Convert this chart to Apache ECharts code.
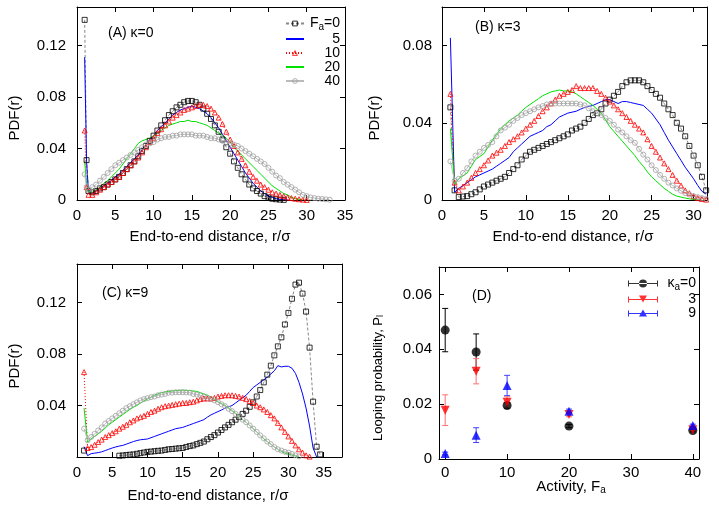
<!DOCTYPE html>
<html>
<head>
<meta charset="utf-8">
<script src="https://cdn.jsdelivr.net/npm/echarts@6/dist/echarts.min.js"></script>
<style>
html, body { margin: 0; padding: 0; background: #fff; }
#chart { width: 719px; height: 507px; }
</style>
</head>
<body>
<div id="chart"></div>
<script>
// ---- panel A (kappa = 0) ----
var xA = [1, 1.25, 1.5, 2, 2.5, 3, 3.5, 4, 4.5, 5, 5.5, 6, 6.5, 7, 7.5, 8, 8.5, 9, 9.5, 10, 10.5, 11, 11.5, 12, 12.5, 13, 13.5, 14, 14.5, 15, 15.5, 16, 16.5, 17, 17.5, 18, 18.5, 19, 19.5, 20, 20.5, 21, 21.5, 22, 22.5, 23, 23.5, 24, 24.5, 25, 25.5, 26, 26.5, 27, 27.5, 28, 28.5, 29, 29.5, 30, 30.5, 31, 31.5, 32, 32.5, 33];
var aF0 = [0.140, 0.031, 0.007, 0.006, 0.007, 0.009, 0.010, 0.012, 0.014, 0.016, 0.018, 0.021, 0.024, 0.027, 0.030, 0.034, 0.038, 0.042, 0.046, 0.050, 0.054, 0.058, 0.062, 0.066, 0.069, 0.072, 0.074, 0.076, 0.077, 0.077, 0.076, 0.074, 0.071, 0.067, 0.063, 0.058, 0.053, 0.047, 0.041, 0.036, 0.030, 0.025, 0.020, 0.016, 0.012, 0.009, 0.007, 0.005, 0.003, 0.002, 0.001, 0.0006, 0.0003, 0.0001];
var aF5 = [0.111, 0.030, 0.006, 0.005, 0.007, 0.009, 0.011, 0.013, 0.015, 0.018, 0.020, 0.023, 0.026, 0.029, 0.032, 0.035, 0.039, 0.043, 0.047, 0.050, 0.054, 0.057, 0.060, 0.063, 0.066, 0.068, 0.070, 0.071, 0.072, 0.073, 0.072, 0.071, 0.069, 0.067, 0.064, 0.060, 0.056, 0.051, 0.046, 0.041, 0.036, 0.031, 0.026, 0.021, 0.017, 0.013, 0.010, 0.007, 0.005, 0.003, 0.002, 0.001, 0.0006, 0.0003, 0];
var aF10 = [0.054, 0.010, 0.004, 0.004, 0.006, 0.008, 0.010, 0.012, 0.014, 0.016, 0.018, 0.021, 0.024, 0.027, 0.030, 0.033, 0.037, 0.041, 0.045, 0.048, 0.052, 0.055, 0.058, 0.061, 0.064, 0.066, 0.068, 0.070, 0.071, 0.072, 0.073, 0.074, 0.074, 0.073, 0.071, 0.068, 0.064, 0.059, 0.053, 0.047, 0.042, 0.037, 0.032, 0.027, 0.022, 0.018, 0.015, 0.012, 0.010, 0.008, 0.006, 0.005, 0.004, 0.003, 0.002, 0.0015, 0.001, 0.0006, 0.0003, 0.0001];
var aF20 = [0.030, 0.012, 0.006, 0.006, 0.008, 0.010, 0.013, 0.015, 0.018, 0.021, 0.024, 0.028, 0.032, 0.036, 0.040, 0.044, 0.046, 0.047, 0.048, 0.050, 0.052, 0.054, 0.056, 0.058, 0.059, 0.060, 0.061, 0.061, 0.062, 0.061, 0.061, 0.060, 0.059, 0.058, 0.056, 0.054, 0.052, 0.050, 0.048, 0.045, 0.041, 0.038, 0.035, 0.032, 0.029, 0.026, 0.023, 0.020, 0.017, 0.014, 0.011, 0.009, 0.007, 0.005, 0.004, 0.002, 0.001, 0.0005, 0];
var aF40 = [0.020, 0.010, 0.008, 0.010, 0.012, 0.015, 0.018, 0.021, 0.024, 0.027, 0.029, 0.031, 0.033, 0.035, 0.037, 0.039, 0.041, 0.043, 0.044, 0.045, 0.047, 0.048, 0.049, 0.049, 0.050, 0.050, 0.051, 0.051, 0.051, 0.051, 0.050, 0.050, 0.050, 0.049, 0.048, 0.048, 0.047, 0.046, 0.045, 0.044, 0.043, 0.042, 0.040, 0.038, 0.036, 0.034, 0.032, 0.030, 0.028, 0.025, 0.022, 0.019, 0.017, 0.014, 0.012, 0.010, 0.008, 0.006, 0.004, 0.003, 0.002, 0.0015, 0.001, 0.0008, 0.0005, 0.0002];

// ---- panel B (kappa = 3) ----
var xB = [1, 1.5, 2, 2.5, 3, 3.5, 4, 4.5, 5, 5.5, 6, 6.5, 7, 7.5, 8, 8.5, 9, 9.5, 10, 10.5, 11, 11.5, 12, 12.5, 13, 13.5, 14, 14.5, 15, 15.5, 16, 16.5, 17, 17.5, 18, 18.5, 19, 19.5, 20, 20.5, 21, 21.5, 22, 22.5, 23, 23.5, 24, 24.5, 25, 25.5, 26, 26.5, 27, 27.5, 28, 28.5, 29, 29.5, 30, 30.5, 31, 31.5];
var bF0 = [0.048, 0.005, 0.0015, 0.0018, 0.002, 0.003, 0.004, 0.0055, 0.007, 0.008, 0.009, 0.010, 0.011, 0.012, 0.014, 0.016, 0.018, 0.021, 0.023, 0.025, 0.026, 0.027, 0.028, 0.029, 0.030, 0.031, 0.032, 0.033, 0.034, 0.036, 0.037, 0.038, 0.040, 0.042, 0.044, 0.045, 0.047, 0.050, 0.052, 0.054, 0.056, 0.059, 0.061, 0.062, 0.062, 0.062, 0.061, 0.059, 0.057, 0.055, 0.053, 0.050, 0.047, 0.044, 0.040, 0.037, 0.033, 0.028, 0.023, 0.018, 0.012, 0.005];
var bF5 = [0.084, 0.004, 0.006, 0.0075, 0.009, 0.0105, 0.012, 0.013, 0.014, 0.015, 0.016, 0.0175, 0.019, 0.0205, 0.022, 0.025, 0.027, 0.029, 0.031, 0.033, 0.034, 0.035, 0.036, 0.038, 0.039, 0.041, 0.043, 0.044, 0.045, 0.0455, 0.046, 0.047, 0.048, 0.0485, 0.049, 0.050, 0.051, 0.052, 0.052, 0.051, 0.050, 0.051, 0.051, 0.0505, 0.050, 0.0495, 0.049, 0.047, 0.045, 0.042, 0.039, 0.035, 0.031, 0.0275, 0.024, 0.0205, 0.017, 0.014, 0.011, 0.0075, 0.0045, 0.003];
var bF10 = [0.055, 0.009, 0.005, 0.007, 0.009, 0.0115, 0.014, 0.016, 0.018, 0.0205, 0.023, 0.0245, 0.026, 0.028, 0.030, 0.0315, 0.033, 0.035, 0.037, 0.039, 0.041, 0.0435, 0.046, 0.048, 0.050, 0.052, 0.054, 0.055, 0.056, 0.057, 0.059, 0.058, 0.058, 0.058, 0.058, 0.0565, 0.055, 0.053, 0.051, 0.049, 0.047, 0.045, 0.043, 0.041, 0.039, 0.037, 0.035, 0.0315, 0.028, 0.025, 0.022, 0.019, 0.016, 0.013, 0.010, 0.0075, 0.005, 0.0035, 0.002, 0.001, 0.0005, 0.0002];
var bF20 = [0.037, 0.008, 0.011, 0.0125, 0.014, 0.0175, 0.021, 0.0225, 0.024, 0.0275, 0.031, 0.034, 0.037, 0.039, 0.041, 0.0425, 0.044, 0.046, 0.048, 0.0495, 0.051, 0.0525, 0.054, 0.055, 0.056, 0.0565, 0.057, 0.0565, 0.0565, 0.056, 0.055, 0.0535, 0.052, 0.0505, 0.049, 0.047, 0.045, 0.0415, 0.038, 0.0355, 0.033, 0.0305, 0.028, 0.0255, 0.023, 0.020, 0.0175, 0.0145, 0.012, 0.010, 0.008, 0.006, 0.0045, 0.003, 0.002, 0.0015, 0.001, 0.0006, 0.0003, 0.0001, 0];
var bF40 = [0.020, 0.010, 0.011, 0.014, 0.0165, 0.020, 0.023, 0.025, 0.027, 0.0285, 0.030, 0.033, 0.036, 0.0375, 0.039, 0.041, 0.0425, 0.044, 0.045, 0.046, 0.047, 0.048, 0.0487, 0.0495, 0.050, 0.050, 0.050, 0.050, 0.050, 0.050, 0.050, 0.0495, 0.049, 0.0475, 0.046, 0.045, 0.044, 0.0425, 0.041, 0.039, 0.0365, 0.035, 0.033, 0.031, 0.0296, 0.0265, 0.0235, 0.021, 0.018, 0.0155, 0.013, 0.011, 0.009, 0.0075, 0.006, 0.0048, 0.0036, 0.0028, 0.002, 0.0015, 0.001, 0.0005];

// ---- panel C (kappa = 9) ----
var xC = [1, 1.5, 2, 2.5, 3, 3.5, 4, 4.5, 5, 5.5, 6, 6.5, 7, 7.5, 8, 8.5, 9, 9.5, 10, 10.5, 11, 11.5, 12, 12.5, 13, 13.5, 14, 14.5, 15, 15.5, 16, 16.5, 17, 17.5, 18, 18.5, 19, 19.5, 20, 20.5, 21, 21.5, 22, 22.5, 23, 23.5, 24, 24.5, 25, 25.5, 26, 26.5, 27, 27.5, 28, 28.5, 29, 29.5, 30, 30.5, 31, 31.5, 32, 32.5, 33, 33.5, 34, 34.5, 35];
var cF0 = [0.005, null, null, null, null, null, null, null, null, null, 0.001, 0.0012, 0.0015, 0.0018, 0.002, 0.0025, 0.003, 0.0035, 0.004, 0.0042, 0.0045, 0.0048, 0.005, 0.0055, 0.006, 0.0062, 0.0065, 0.0068, 0.007, 0.0078, 0.0085, 0.009, 0.010, 0.011, 0.012, 0.0138, 0.0155, 0.017, 0.019, 0.021, 0.023, 0.025, 0.027, 0.029, 0.031, 0.0335, 0.036, 0.039, 0.0425, 0.047, 0.052, 0.058, 0.064, 0.071, 0.079, 0.086, 0.093, 0.103, 0.112, 0.123, 0.134, 0.1355, 0.127, 0.113, 0.085, 0.043, 0.008, 0.002];
var cF5 = [0.008, 0.001, 0.0026, 0.003, 0.0034, 0.004, 0.005, 0.006, 0.007, 0.0078, 0.0085, 0.009, 0.010, 0.011, 0.012, 0.0128, 0.0134, 0.0137, 0.014, 0.015, 0.016, 0.017, 0.018, 0.019, 0.020, 0.021, 0.022, 0.0225, 0.023, 0.024, 0.025, 0.026, 0.027, 0.028, 0.029, 0.031, 0.0327, 0.034, 0.0353, 0.0365, 0.038, 0.039, 0.040, 0.042, 0.044, 0.046, 0.048, 0.051, 0.054, 0.056, 0.058, 0.060, 0.062, 0.0645, 0.067, 0.071, 0.070, 0.0705, 0.0705, 0.069, 0.065, 0.058, 0.049, 0.038, 0.024, 0.007, 0];
var cF10 = [0.066, 0.007, 0.0077, 0.0095, 0.0116, 0.0135, 0.0155, 0.017, 0.0186, 0.020, 0.022, 0.0235, 0.025, 0.027, 0.0284, 0.030, 0.031, 0.032, 0.0335, 0.035, 0.036, 0.0375, 0.0387, 0.0395, 0.040, 0.0405, 0.041, 0.0415, 0.042, 0.042, 0.0426, 0.043, 0.044, 0.045, 0.0455, 0.0455, 0.0455, 0.046, 0.047, 0.0475, 0.048, 0.048, 0.048, 0.0475, 0.047, 0.046, 0.045, 0.0435, 0.042, 0.040, 0.0387, 0.037, 0.035, 0.0325, 0.030, 0.0265, 0.023, 0.0195, 0.016, 0.0125, 0.009, 0.006, 0.0034, 0.0013, 0.0003];
var cF20 = [0.038, 0.0116, 0.0142, 0.016, 0.018, 0.020, 0.0225, 0.025, 0.027, 0.029, 0.031, 0.033, 0.035, 0.037, 0.0387, 0.040, 0.042, 0.0435, 0.045, 0.0465, 0.048, 0.049, 0.050, 0.0505, 0.051, 0.0513, 0.0516, 0.0518, 0.052, 0.0518, 0.0516, 0.0513, 0.051, 0.050, 0.049, 0.048, 0.0465, 0.045, 0.043, 0.0415, 0.040, 0.038, 0.036, 0.034, 0.0315, 0.029, 0.027, 0.0245, 0.022, 0.0195, 0.0168, 0.014, 0.012, 0.010, 0.0077, 0.006, 0.0044, 0.003, 0.0023, 0.0015, 0.0008, 0];
var cF40 = [0.022, 0.013, 0.0155, 0.018, 0.0206, 0.023, 0.026, 0.028, 0.030, 0.032, 0.034, 0.036, 0.038, 0.0395, 0.041, 0.0425, 0.044, 0.045, 0.0457, 0.0465, 0.047, 0.048, 0.0485, 0.049, 0.050, 0.050, 0.0503, 0.0503, 0.0503, 0.0502, 0.050, 0.049, 0.0485, 0.048, 0.047, 0.046, 0.045, 0.044, 0.0426, 0.041, 0.0395, 0.0375, 0.0356, 0.0335, 0.0315, 0.029, 0.027, 0.0245, 0.022, 0.0195, 0.0168, 0.0145, 0.012, 0.010, 0.0077, 0.006, 0.005, 0.004, 0.0034, 0.0024, 0.0013, 0.0005];

// ---- panel D (looping probability) ----
var activity = [0, 5, 10, 20, 40];
var plK0 = [0.047, 0.039, 0.0195, 0.012, 0.0104];
var errK0 = [0.0079, 0.0066, 0.001, 0.0006, 0.0005];
var plK3 = [0.0178, 0.032, 0.0207, 0.0162, 0.0107];
var errK3 = [0.0056, 0.0046, 0.002, 0.0008, 0.0005];
var plK9 = [0.002, 0.0087, 0.0268, 0.0174, 0.0122];
var errK9 = [0.0005, 0.0027, 0.0037, 0.0008, 0.0005];

// ticks
var ticksA = [0, 5, 10, 15, 20, 25, 30, 35];
var ticksB = [0, 5, 10, 15, 20, 25, 30];
var ticksPdf = [0, 0.04, 0.08, 0.12];
var ticksPdfC = [0.04, 0.08, 0.12];
var ticksD = [0, 10, 20, 30, 40];
var ticksPl = [0, 0.02, 0.04, 0.06];

var FONT = 'Liberation Sans';
var myChart = echarts.init(document.getElementById('chart'));

// text width, used to right-align the legend labels
var mctx = document.createElement('canvas').getContext('2d');
function textW(str, size) {
  mctx.font = size + 'px ' + FONT;
  return mctx.measureText(str).width;
}

function axes(grid, range, ticks, labels, margin, horiz) {
  function mk(pos, show) {
    return {
      type: 'value', gridIndex: grid, position: pos, min: range[0], max: range[1],
      axisLine: { show: true, onZero: false, lineStyle: { color: '#000', width: 1 } },
      axisTick: { show: true, inside: true, length: 5, customValues: ticks, lineStyle: { color: '#000', width: 1 } },
      axisLabel: { show: show, customValues: labels, margin: margin, color: '#000', fontSize: 15, fontFamily: FONT },
      splitLine: { show: false }
    };
  }
  return horiz ? [mk('bottom', true), mk('top', false)] : [mk('left', true), mk('right', false)];
}

var xAxes = [].concat(
  axes(0, [0, 35], ticksA, ticksA, 8, true),
  axes(1, [0, 31.6], ticksB, ticksB, 8, true),
  axes(2, [0, 37.6], ticksA, ticksA, 8, true),
  axes(3, [-1, 41], ticksD, ticksD, 6, true)
);
var yAxes = [].concat(
  axes(0, [0, 0.15], ticksPdf, ticksPdf, 11, false),
  axes(1, [0, 0.1], [0, 0.04, 0.08], [0, 0.04, 0.08], 10, false),
  axes(2, [0, 0.15], ticksPdf, ticksPdfC, 11, false),
  axes(3, [0, 0.07], ticksPl, ticksPl, 7, false)
);

var styles = {
  f0: { symbol: 'rect', size: 5, stroke: '#000', line: '#888', type: [3, 2] },
  f5: { symbol: 'none', stroke: '#0000ff', line: '#0000ff' },
  f10: { symbol: 'triangle', size: 5, stroke: '#ff0000', line: '#ff0000', type: [1, 2] },
  f20: { symbol: 'none', stroke: '#00e000', line: '#00e000' },
  f40: { symbol: 'circle', size: 5, stroke: '#a0a0a0', line: '#bbbbbb' }
};

function curve(grid, name, xs, ys, st) {
  var data = [];
  for (var i = 0; i < ys.length; i++) data.push([xs[i], ys[i] === null ? '-' : ys[i]]);
  return {
    type: 'line', name: name, xAxisIndex: grid * 2, yAxisIndex: grid * 2, data: data,
    symbol: st.symbol, symbolSize: st.size || 4, showSymbol: st.symbol !== 'none',
    itemStyle: { color: 'rgba(255,255,255,0)', borderColor: st.stroke, borderWidth: 0.8 },
    lineStyle: { color: st.line, width: 1, type: st.type || 'solid' },
    emphasis: { disabled: true }, silent: true, connectNulls: false
  };
}

function panel(grid, xs, f0, f5, f10, f20, f40) {
  return [
    curve(grid, 'Fa=0', xs, f0, styles.f0),
    curve(grid, '5', xs, f5, styles.f5),
    curve(grid, '10', xs, f10, styles.f10),
    curve(grid, '20', xs, f20, styles.f20),
    curve(grid, '40', xs, f40, styles.f40)
  ];
}

function errBars(color) {
  return function (params, api) {
    var x = api.value(0);
    var p1 = api.coord([x, api.value(1)]);
    var p2 = api.coord([x, api.value(2)]);
    var w = 3;
    var st = { stroke: color, lineWidth: 1 };
    return { type: 'group', children: [
      { type: 'line', shape: { x1: p1[0], y1: p1[1], x2: p2[0], y2: p2[1] }, style: st },
      { type: 'line', shape: { x1: p1[0] - w, y1: p1[1], x2: p1[0] + w, y2: p1[1] }, style: st },
      { type: 'line', shape: { x1: p2[0] - w, y1: p2[1], x2: p2[0] + w, y2: p2[1] }, style: st }
    ] };
  };
}

function errSeries(name, vals, errs, color) {
  var data = [];
  for (var i = 0; i < vals.length; i++) data.push([activity[i], vals[i] - errs[i], vals[i] + errs[i]]);
  return { type: 'custom', name: name, xAxisIndex: 6, yAxisIndex: 6, data: data,
    encode: { x: 0, y: [1, 2] }, renderItem: errBars(color), silent: true };
}

function pointSeries(name, vals, symbol, rotate, color) {
  var data = [];
  for (var i = 0; i < vals.length; i++) data.push([activity[i], vals[i]]);
  return { type: 'scatter', name: name, xAxisIndex: 6, yAxisIndex: 6, data: data,
    symbol: symbol, symbolRotate: rotate, symbolSize: 9, itemStyle: { color: color },
    emphasis: { disabled: true }, silent: true };
}

var series = [].concat(
  panel(0, xA, aF0, aF5, aF10, aF20, aF40),
  panel(1, xB, bF0, bF5, bF10, bF20, bF40),
  panel(2, xC, cF0, cF5, cF10, cF20, cF40),
  [
    errSeries('errK0', plK0, errK0, '#000'),
    errSeries('errK3', plK3, errK3, '#ff7070'),
    errSeries('errK9', plK9, errK9, '#4040ff'),
    pointSeries('κa=0', plK0, 'circle', 0, '#000'),
    pointSeries('3', plK3, 'triangle', 180, '#ff0000'),
    pointSeries('9', plK9, 'triangle', 0, '#0000ff')
  ]
);

// legend labels: main text, subscript, rest; left padding right-aligns them
var LFS = 14, SFS = 10;
var legendRich = {
  t: { fontSize: LFS, fontFamily: FONT, color: '#000', lineHeight: 16 },
  s: { fontSize: SFS, fontFamily: FONT, color: '#000', lineHeight: 9, padding: [7, 0, 0, 0] }
};
var labelsA = { 'Fa=0': ['F', 'a', '=0'], '5': ['5'], '10': ['10'], '20': ['20'], '40': ['40'] };
var labelsD = { 'κa=0': ['κ', 'a', '=0'], '3': ['3'], '9': ['9'] };
function labelText(parts) {
  var s = '{t|' + parts[0] + '}';
  if (parts[1]) s += '{s|' + parts[1] + '}{t|' + parts[2] + '}';
  return s;
}
function labelPad(parts, boxW) {
  var w = textW(parts[0], LFS) + (parts[1] ? textW(parts[1], SFS) + textW(parts[2], LFS) : 0);
  return Math.max(0, boxW - w);
}
function legendItem(name, labels, boxW, extra) {
  var item = { name: name, textStyle: { padding: [0, 0, 0, labelPad(labels[name], boxW)] } };
  for (var k in extra) item[k] = extra[k];
  return item;
}

var BAR = 'M0,3.5H30V4.5H0Z M0,1H1V7H0Z M29,1H30V7H29Z ';
var OPEN = 'rgba(255,255,255,0)';

var option = {
  animation: false,
  backgroundColor: '#fff',
  grid: [
    { left: 77, top: 7, width: 268, height: 193 },
    { left: 442, top: 7, width: 265, height: 193 },
    { left: 77, top: 264, width: 265, height: 193 },
    { left: 439, top: 267, width: 260, height: 192 }
  ],
  xAxis: xAxes,
  yAxis: yAxes,
  legend: [
    {
      data: [
        legendItem('Fa=0', labelsA, 31, { itemStyle: { color: OPEN, borderColor: '#000', borderWidth: 0.8 } }),
        legendItem('5', labelsA, 31, { itemStyle: { color: OPEN, borderColor: OPEN, borderWidth: 0 } }),
        legendItem('10', labelsA, 31, { itemStyle: { color: OPEN, borderColor: '#ff0000', borderWidth: 0.8 } }),
        legendItem('20', labelsA, 31, { itemStyle: { color: OPEN, borderColor: OPEN, borderWidth: 0 } }),
        legendItem('40', labelsA, 31, { itemStyle: { color: OPEN, borderColor: '#a0a0a0', borderWidth: 0.8 } })
      ],
      orient: 'vertical', left: 280, top: 10,
      itemWidth: 18, itemHeight: 6, itemGap: 0, selectedMode: false,
      formatter: function (n) { return labelText(labelsA[n]); },
      textStyle: { rich: legendRich }
    },
    {
      data: [
        legendItem('κa=0', labelsD, 33, { icon: 'path://' + BAR + 'M11,4A4,4 0 1,0 19,4A4,4 0 1,0 11,4Z' }),
        legendItem('3', labelsD, 33, { icon: 'path://' + BAR + 'M11,0H19L15,7Z' }),
        legendItem('9', labelsD, 33, { icon: 'path://' + BAR + 'M15,0L19,7H11Z' })
      ],
      orient: 'vertical', left: 623, top: 270,
      itemWidth: 30, itemHeight: 8, itemGap: 0, selectedMode: false,
      formatter: function (n) { return labelText(labelsD[n]); },
      textStyle: { rich: legendRich }
    }
  ],
  graphic: [
    { type: 'text', x: 108, y: 33, style: { text: '(A) κ=0', font: '14px ' + FONT, fill: '#000', verticalAlign: 'middle' } },
    { type: 'text', x: 475, y: 27, style: { text: '(B) κ=3', font: '14px ' + FONT, fill: '#000', verticalAlign: 'middle' } },
    { type: 'text', x: 102, y: 293, style: { text: '(C) κ=9', font: '14px ' + FONT, fill: '#000', verticalAlign: 'middle' } },
    { type: 'text', x: 472, y: 296, style: { text: '(D)', font: '14px ' + FONT, fill: '#000', verticalAlign: 'middle' } },
    { type: 'text', x: 210, y: 237, style: { text: 'End-to-end distance, r/σ', font: '15px ' + FONT, fill: '#000', align: 'center', verticalAlign: 'middle' } },
    { type: 'text', x: 573, y: 237, style: { text: 'End-to-end distance, r/σ', font: '15px ' + FONT, fill: '#000', align: 'center', verticalAlign: 'middle' } },
    { type: 'text', x: 208, y: 496, style: { text: 'End-to-end distance, r/σ', font: '15px ' + FONT, fill: '#000', align: 'center', verticalAlign: 'middle' } },
    { type: 'text', x: 571, y: 487, style: { text: '{m|Activity, F}{b|a}', align: 'center', verticalAlign: 'middle',
      rich: { m: { fontSize: 15, fontFamily: FONT, color: '#000', lineHeight: 17 }, b: { fontSize: 10, fontFamily: FONT, color: '#000', lineHeight: 10, padding: [7, 0, 0, 0] } } } },
    { type: 'text', x: 15, y: 118, rotation: Math.PI / 2, style: { text: 'PDF(r)', font: '15px ' + FONT, fill: '#000', align: 'center', verticalAlign: 'middle' } },
    { type: 'text', x: 375, y: 118, rotation: Math.PI / 2, style: { text: 'PDF(r)', font: '15px ' + FONT, fill: '#000', align: 'center', verticalAlign: 'middle' } },
    { type: 'text', x: 15, y: 366, rotation: Math.PI / 2, style: { text: 'PDF(r)', font: '15px ' + FONT, fill: '#000', align: 'center', verticalAlign: 'middle' } },
    { type: 'text', x: 378, y: 378, rotation: Math.PI / 2, style: { text: '{m|Looping probability, P}{b|l}', align: 'center', verticalAlign: 'middle',
      rich: { m: { fontSize: 13, fontFamily: FONT, color: '#000', lineHeight: 15 }, b: { fontSize: 9, fontFamily: FONT, color: '#000', lineHeight: 9, padding: [6, 0, 0, 0] } } } }
  ],
  series: series
};
myChart.setOption(option);
</script>
</body>
</html>
